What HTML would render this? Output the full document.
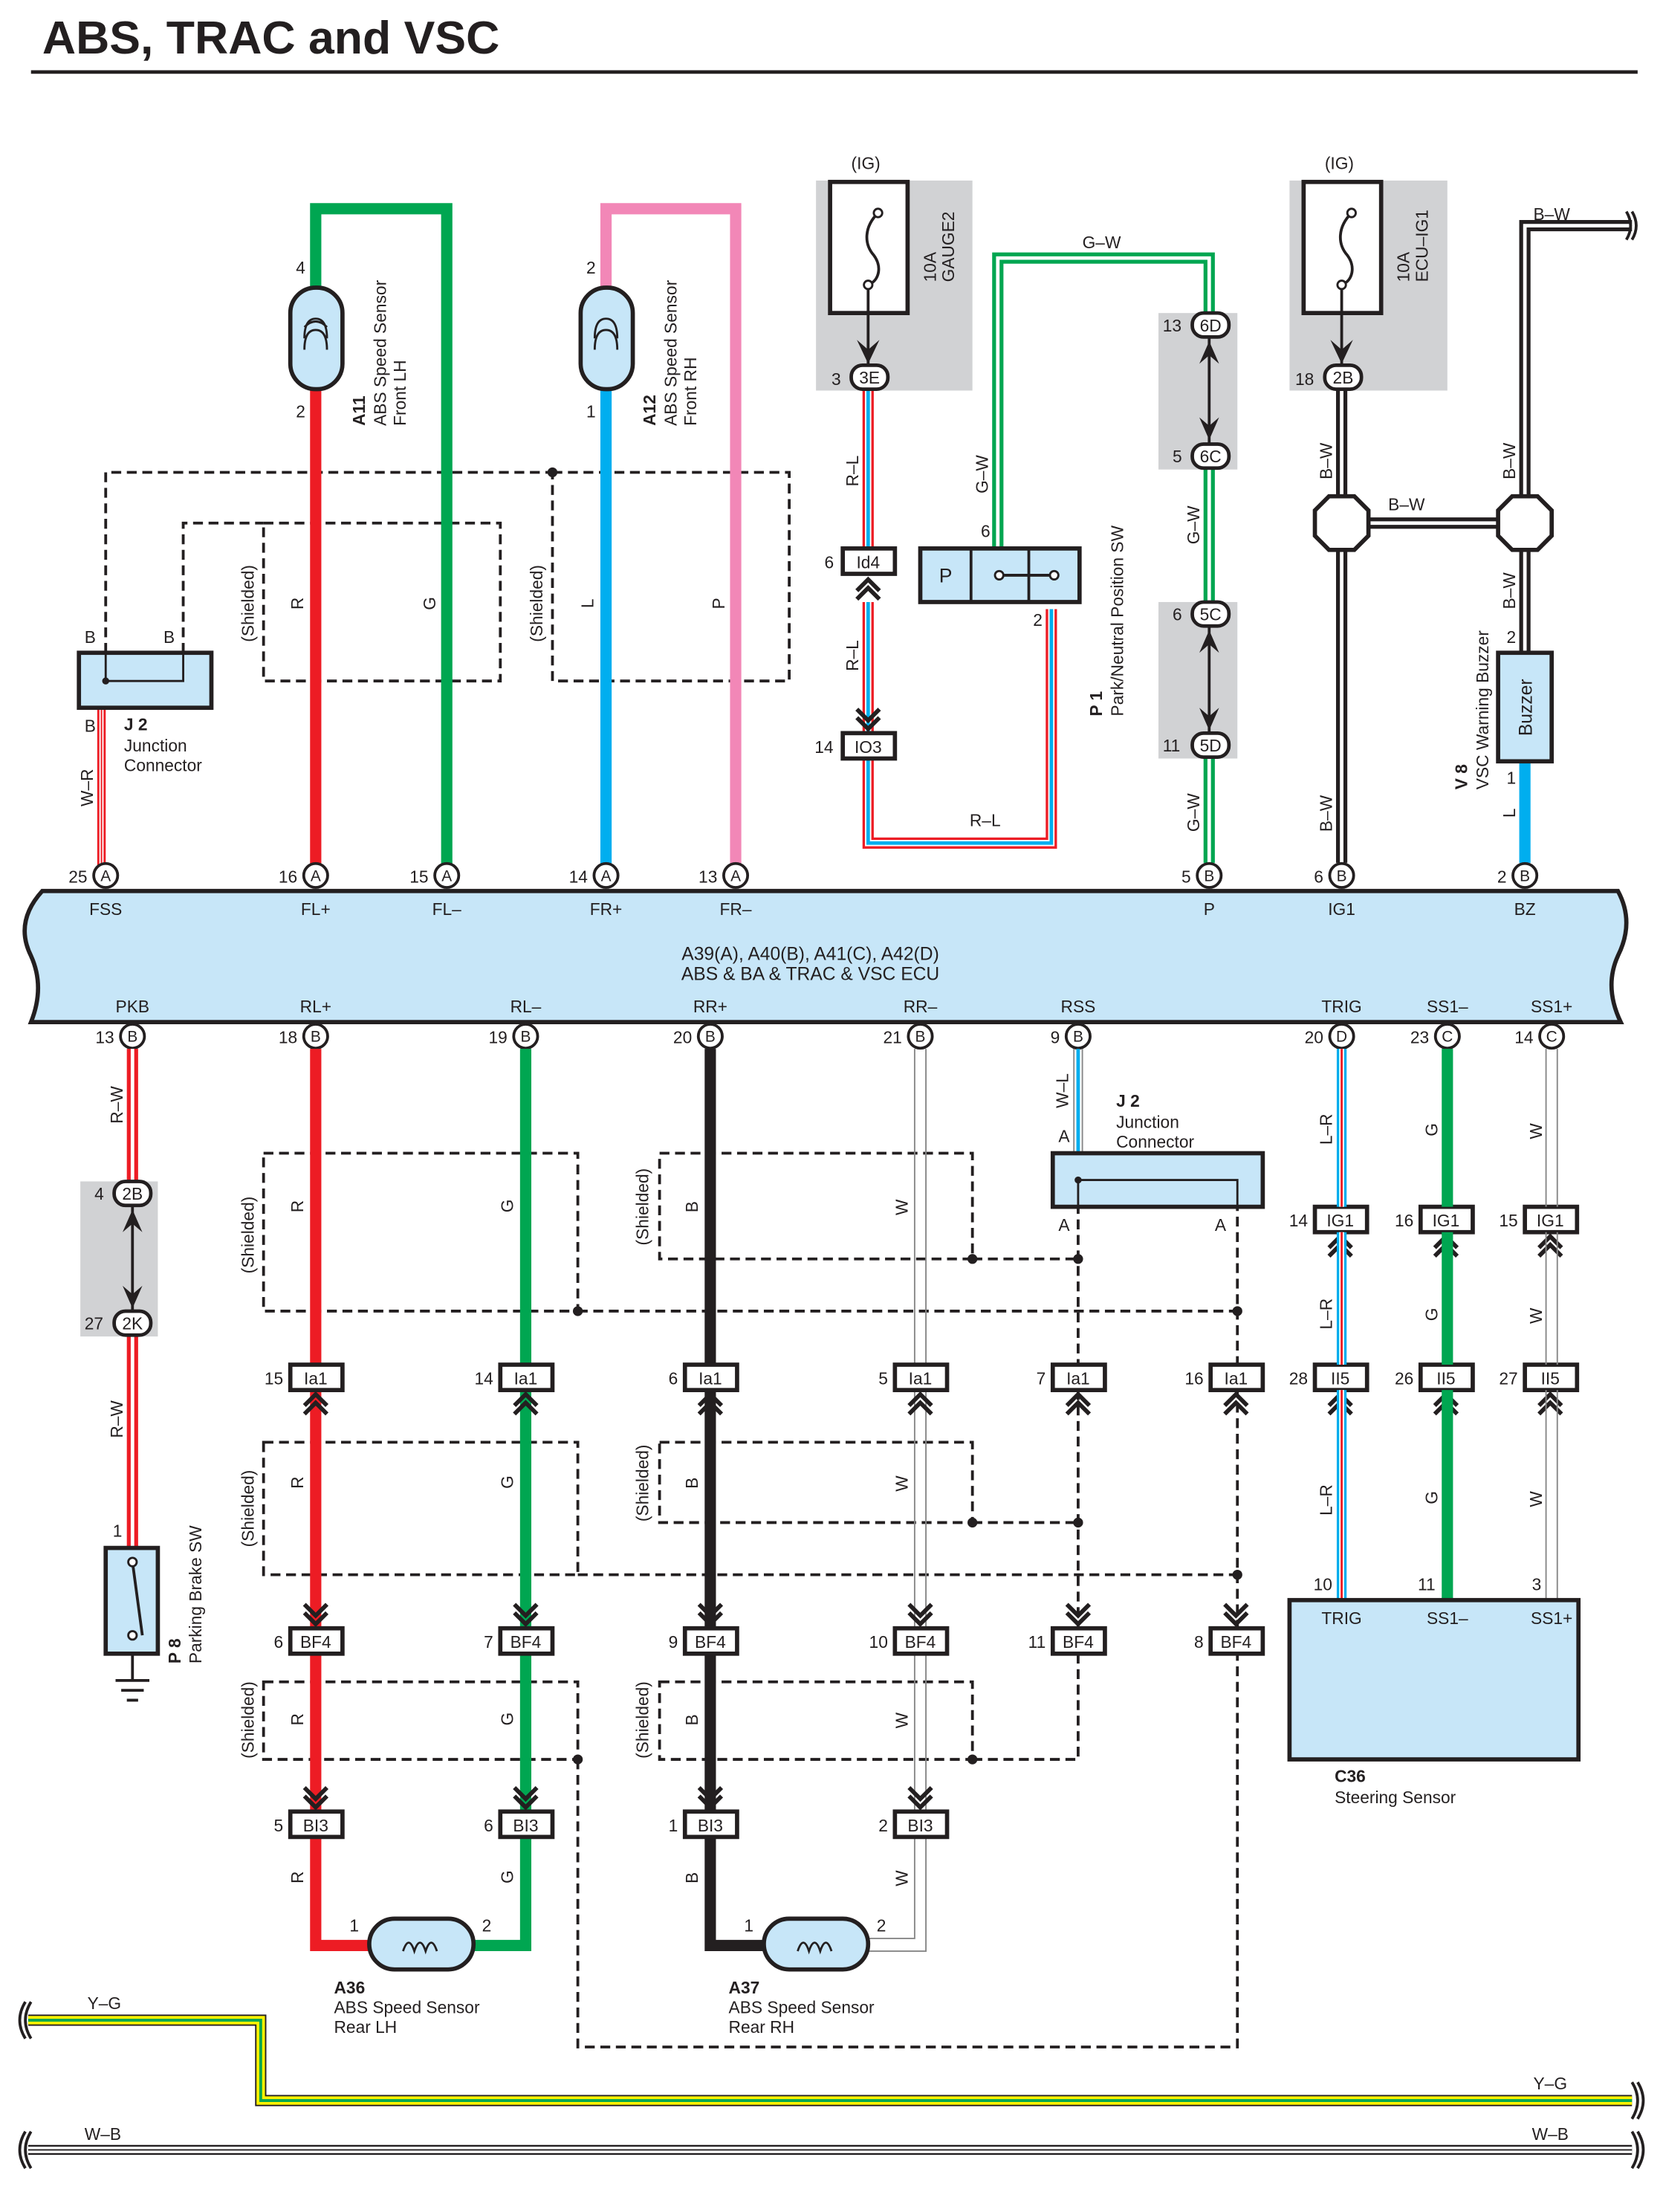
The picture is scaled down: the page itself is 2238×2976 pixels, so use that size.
<!DOCTYPE html>
<html><head><meta charset="utf-8"><style>html,body{margin:0;padding:0;background:#fff}svg{display:block}text{font-family:"Liberation Sans",sans-serif;fill:#231f20}</style></head><body>
<svg width="2238" height="2976" viewBox="0 0 1180 1569" xmlns="http://www.w3.org/2000/svg">
<defs>
<g id="cu"><polyline points="-8,9 0,1 8,9" fill="none" stroke="#231f20" stroke-width="3"/><polyline points="-8,15 0,7 8,15" fill="none" stroke="#231f20" stroke-width="3"/></g>
<g id="cd"><polyline points="-8,-9 0,-1 8,-9" fill="none" stroke="#231f20" stroke-width="3"/><polyline points="-8,-15 0,-7 8,-15" fill="none" stroke="#231f20" stroke-width="3"/></g>
</defs>
<style>
.dash{fill:none;stroke:#231f20;stroke-width:2;stroke-dasharray:7,4}
.t{font-size:13px}
.s{font-size:12px}
</style>
<!-- title -->
<text x="30" y="38" style="font-size:33px;font-weight:bold">ABS, TRAC and VSC</text>
<line x1="22" y1="51" x2="1162" y2="51" stroke="#231f20" stroke-width="2.5"/>

<!-- gray boxes -->
<rect x="579" y="128" width="111" height="149" fill="#d1d2d4"/>
<rect x="915" y="128" width="112" height="149" fill="#d1d2d4"/>
<rect x="822" y="222" width="56" height="111" fill="#d1d2d4"/>
<rect x="822" y="427" width="56" height="111" fill="#d1d2d4"/>
<rect x="57" y="838" width="55" height="110" fill="#d1d2d4"/>

<!-- dashed shields top -->
<path class="dash" d="M75,463 V335 H392"/>
<rect class="dash" x="392" y="335" width="168" height="148"/>
<circle cx="392" cy="335" r="3.5" fill="#231f20"/>
<path class="dash" d="M130,463 V371 H187"/>
<rect class="dash" x="187" y="371" width="168" height="112"/>
<text class="s" transform="translate(180,428) rotate(-90)" text-anchor="middle">(Shielded)</text>
<text class="s" transform="translate(385,428) rotate(-90)" text-anchor="middle">(Shielded)</text>
<text class="s" transform="translate(215,428) rotate(-90)" text-anchor="middle">R</text>
<text class="s" transform="translate(309,428) rotate(-90)" text-anchor="middle">G</text>
<text class="s" transform="translate(421,428) rotate(-90)" text-anchor="middle">L</text>
<text class="s" transform="translate(514,428) rotate(-90)" text-anchor="middle">P</text>

<!-- A11 -->
<path d="M224,621 V270" stroke="#ed1c24" stroke-width="8" fill="none"/>
<path d="M224,210 V148 H317 V621" stroke="#00a651" stroke-width="8" fill="none"/>
<rect x="206" y="204" width="37" height="72" rx="18" fill="#c7e6f8" stroke="#231f20" stroke-width="3"/>
<path d="M216,248 q0,-14 8,-14 q8,0 8,14 M216,240 q0,-14 8,-14 q8,0 8,14 M216,232 q8,-8 16,0" fill="none" stroke="#231f20" stroke-width="1.5"/>
<text class="s" x="210" y="194">4</text><text class="s" x="210" y="296">2</text>
<text transform="translate(259,302) rotate(-90)" class="s"><tspan style="font-weight:bold">A11</tspan></text>
<text transform="translate(274,302) rotate(-90)" class="s">ABS Speed Sensor</text>
<text transform="translate(288,302) rotate(-90)" class="s">Front LH</text>
<!-- A12 -->
<path d="M430,621 V270" stroke="#00aeef" stroke-width="8" fill="none"/>
<path d="M430,210 V148 H522 V621" stroke="#f287b7" stroke-width="8" fill="none"/>
<rect x="412" y="204" width="37" height="72" rx="18" fill="#c7e6f8" stroke="#231f20" stroke-width="3"/>
<path d="M422,248 q0,-14 8,-14 q8,0 8,14 M422,240 q0,-14 8,-14 q8,0 8,14" fill="none" stroke="#231f20" stroke-width="1.5"/>
<text class="s" x="416" y="194">2</text><text class="s" x="416" y="296">1</text>
<text transform="translate(465,302) rotate(-90)" class="s" style="font-weight:bold">A12</text>
<text transform="translate(480,302) rotate(-90)" class="s">ABS Speed Sensor</text>
<text transform="translate(494,302) rotate(-90)" class="s">Front RH</text>

<!-- J2 top -->
<path d="M72,502 V621" stroke="#ed1c24" stroke-width="6" fill="none"/>
<path d="M72,502 V621" stroke="#fff" stroke-width="3" fill="none"/>
<path d="M72,502 V621" stroke="#ed1c24" stroke-width="1" fill="none"/>
<rect x="56" y="463" width="94" height="39" fill="#c7e6f8" stroke="#231f20" stroke-width="3"/>
<path d="M75,463 V483 H130 V463" fill="none" stroke="#231f20" stroke-width="1.5"/>
<circle cx="75" cy="483" r="2.5" fill="#231f20"/>
<text class="s" x="60" y="456">B</text><text class="s" x="116" y="456">B</text><text class="s" x="60" y="519">B</text>
<text class="s" transform="translate(66,572) rotate(-90)">W–R</text>
<text x="88" y="518" class="s" style="font-weight:bold">J 2</text>
<text x="88" y="533" class="s">Junction</text>
<text x="88" y="547" class="s">Connector</text>

<!-- GAUGE2 fuse -->
<text class="s" x="604" y="120">(IG)</text>
<rect x="589" y="129" width="55" height="93" fill="#fff" stroke="#231f20" stroke-width="3"/>
<path d="M623,151 c-10,10 -10,22 -3,30 c6,8 4,18 -4,21" fill="none" stroke="#231f20" stroke-width="2"/>
<circle cx="623" cy="151" r="3" fill="#fff" stroke="#231f20" stroke-width="1.5"/>
<circle cx="616" cy="202" r="3" fill="#fff" stroke="#231f20" stroke-width="1.5"/>
<line x1="616" y1="205" x2="616" y2="258" stroke="#231f20" stroke-width="2"/>
<path d="M608,241 L616,258 L624,241 L616,248 Z" fill="#231f20"/>
<text transform="translate(664,200) rotate(-90)" class="s">10A</text>
<text transform="translate(677,200) rotate(-90)" class="s">GAUGE2</text>
<!-- R-L wire -->
<g fill="none">
<path d="M616,277 V389 M616,427 V520 M616,538 V598 H746 V432" stroke="#ed1c24" stroke-width="8"/>
<path d="M616,277 V389 M616,427 V520 M616,538 V598 H746 V432" stroke="#fff" stroke-width="4.5"/>
<path d="M616,277 V389 M616,427 V520 M616,538 V598 H746 V432" stroke="#00aeef" stroke-width="2.5"/>
</g>
<text class="s" transform="translate(609,345) rotate(-90)">R–L</text>
<text class="s" transform="translate(609,476) rotate(-90)">R–L</text>
<text class="s" x="688" y="586">R–L</text>
<rect x="604" y="259" width="26" height="17" rx="8" fill="#fff" stroke="#231f20" stroke-width="2.5"/>
<text class="s" x="617" y="272" text-anchor="middle">3E</text><text class="s" x="590" y="273">3</text>
<rect x="598" y="389" width="37" height="18" fill="#fff" stroke="#231f20" stroke-width="3"/>
<text class="s" x="616" y="403" text-anchor="middle">Id4</text><text class="s" x="585" y="403">6</text>
<use href="#cu" x="616" y="410"/>
<use href="#cd" x="616" y="518"/>
<rect x="598" y="520" width="37" height="18" fill="#fff" stroke="#231f20" stroke-width="3"/>
<text class="s" x="616" y="534" text-anchor="middle">IO3</text><text class="s" x="578" y="534">14</text>
<!-- G-W -->
<g fill="none">
<path d="M708,389 V183 H858 V222 M858,333 V427 M858,538 V612" stroke="#00a651" stroke-width="8"/>
<path d="M708,389 V183 H858 V222 M858,333 V427 M858,538 V612" stroke="#fff" stroke-width="2.5"/>
</g>
<text class="s" x="768" y="176">G–W</text>
<text class="s" transform="translate(701,350) rotate(-90)">G–W</text>
<text class="s" transform="translate(851,386) rotate(-90)">G–W</text>
<text class="s" transform="translate(851,590) rotate(-90)">G–W</text>
<text class="s" x="696" y="381">6</text>
<!-- P switch -->
<rect x="653" y="389" width="113" height="38" fill="#c7e6f8" stroke="#231f20" stroke-width="3"/>
<line x1="689" y1="389" x2="689" y2="427" stroke="#231f20" stroke-width="2"/>
<line x1="730" y1="389" x2="730" y2="427" stroke="#231f20" stroke-width="2"/>
<text x="671" y="413" style="font-size:14px" text-anchor="middle">P</text>
<line x1="709" y1="408" x2="748" y2="408" stroke="#231f20" stroke-width="2"/>
<circle cx="709" cy="408" r="3" fill="#fff" stroke="#231f20" stroke-width="1.5"/>
<circle cx="748" cy="408" r="3" fill="#fff" stroke="#231f20" stroke-width="1.5"/>
<text class="s" x="733" y="444">2</text>
<text transform="translate(782,508) rotate(-90)" class="s" style="font-weight:bold">P 1</text>
<text transform="translate(797,508) rotate(-90)" class="s">Park/Neutral Position SW</text>
<!-- 6D/6C 5C/5D -->
<line x1="858" y1="240" x2="858" y2="314" stroke="#231f20" stroke-width="2"/>
<path d="M851,258 L858,242 L865,258 L858,252Z M851,296 L858,312 L865,296 L858,302Z" fill="#231f20"/>
<line x1="858" y1="445" x2="858" y2="520" stroke="#231f20" stroke-width="2"/>
<path d="M851,463 L858,447 L865,463 L858,457Z M851,502 L858,518 L865,502 L858,508Z" fill="#231f20"/>
<g fill="#fff" stroke="#231f20" stroke-width="2.5">
<rect x="846" y="222" width="26" height="17" rx="8"/><rect x="846" y="315" width="26" height="17" rx="8"/>
<rect x="846" y="427" width="26" height="17" rx="8"/><rect x="846" y="520" width="26" height="17" rx="8"/>
</g>
<text class="s" x="859" y="235" text-anchor="middle">6D</text><text class="s" x="825" y="235">13</text>
<text class="s" x="859" y="328" text-anchor="middle">6C</text><text class="s" x="832" y="328">5</text>
<text class="s" x="859" y="440" text-anchor="middle">5C</text><text class="s" x="832" y="440">6</text>
<text class="s" x="859" y="533" text-anchor="middle">5D</text><text class="s" x="825" y="533">11</text>

<!-- ECU-IG1 fuse -->
<text class="s" x="940" y="120">(IG)</text>
<rect x="925" y="129" width="55" height="93" fill="#fff" stroke="#231f20" stroke-width="3"/>
<path d="M959,151 c-10,10 -10,22 -3,30 c6,8 4,18 -4,21" fill="none" stroke="#231f20" stroke-width="2"/>
<circle cx="959" cy="151" r="3" fill="#fff" stroke="#231f20" stroke-width="1.5"/>
<circle cx="952" cy="202" r="3" fill="#fff" stroke="#231f20" stroke-width="1.5"/>
<line x1="952" y1="205" x2="952" y2="258" stroke="#231f20" stroke-width="2"/>
<path d="M944,241 L952,258 L960,241 L952,248 Z" fill="#231f20"/>
<text transform="translate(1000,200) rotate(-90)" class="s">10A</text>
<text transform="translate(1013,200) rotate(-90)" class="s">ECU–IG1</text>
<g fill="none">
<path d="M952,277 V612 M952,371 H1082 M1082,463 V160 H1158" stroke="#231f20" stroke-width="8"/>
<path d="M952,277 V612 M952,371 H1082 M1082,463 V160 H1158" stroke="#fff" stroke-width="2.5"/>
</g>
<path d="M1158,150 q6,10 0,20" fill="none" stroke="#231f20" stroke-width="2"/>
<path d="M1154,150 q6,10 0,20" fill="none" stroke="#231f20" stroke-width="2"/>
<polygon points="943,352 961,352 971,362 971,380 961,390 943,390 933,380 933,362" fill="#fff" stroke="#231f20" stroke-width="3"/>
<polygon points="1073,352 1091,352 1101,362 1101,380 1091,390 1073,390 1063,380 1063,362" fill="#fff" stroke="#231f20" stroke-width="3"/>
<rect x="940" y="259" width="26" height="17" rx="8" fill="#fff" stroke="#231f20" stroke-width="2.5"/>
<text class="s" x="953" y="272" text-anchor="middle">2B</text><text class="s" x="919" y="273">18</text>
<text class="s" x="1088" y="156">B–W</text>
<text class="s" x="985" y="362">B–W</text>
<text class="s" transform="translate(945,340) rotate(-90)">B–W</text>
<text class="s" transform="translate(945,590) rotate(-90)">B–W</text>
<text class="s" transform="translate(1075,340) rotate(-90)">B–W</text>
<text class="s" transform="translate(1075,432) rotate(-90)">B–W</text>
<text class="s" x="1069" y="456">2</text>
<path d="M1082,540 V612" stroke="#00aeef" stroke-width="8"/>
<rect x="1063" y="463" width="38" height="77" fill="#c7e6f8" stroke="#231f20" stroke-width="3"/>
<text transform="translate(1087,522) rotate(-90)" style="font-size:13px">Buzzer</text>
<text class="s" x="1069" y="556">1</text>
<text class="s" transform="translate(1075,580) rotate(-90)">L</text>
<text transform="translate(1041,560) rotate(-90)" class="s" style="font-weight:bold">V 8</text>
<text transform="translate(1056,560) rotate(-90)" class="s">VSC Warning Buzzer</text>

<!-- ECU bar -->
<path d="M30,632 H1148 q12,22 0,46 q-10,22 2,47 H22 q10,-25 0,-47 q-12,-24 8,-46Z" fill="#c7e6f8" stroke="#231f20" stroke-width="3"/>
<text x="575" y="681" text-anchor="middle" style="font-size:13px">A39(A), A40(B), A41(C), A42(D)</text>
<text x="575" y="695" text-anchor="middle" style="font-size:13px">ABS &amp; BA &amp; TRAC &amp; VSC ECU</text>
<g class="s" text-anchor="middle">
<text x="75" y="649">FSS</text><text x="224" y="649">FL+</text><text x="317" y="649">FL–</text><text x="430" y="649">FR+</text><text x="522" y="649">FR–</text><text x="858" y="649">P</text><text x="952" y="649">IG1</text><text x="1082" y="649">BZ</text>
<text x="94" y="718">PKB</text><text x="224" y="718">RL+</text><text x="373" y="718">RL–</text><text x="504" y="718">RR+</text><text x="653" y="718">RR–</text><text x="765" y="718">RSS</text><text x="952" y="718">TRIG</text><text x="1027" y="718">SS1–</text><text x="1101" y="718">SS1+</text>
</g>
<!-- top pins -->
<g fill="#fff" stroke="#231f20" stroke-width="2">
<circle cx="75" cy="621" r="8.5"/><circle cx="224" cy="621" r="8.5"/><circle cx="317" cy="621" r="8.5"/><circle cx="430" cy="621" r="8.5"/><circle cx="522" cy="621" r="8.5"/><circle cx="858" cy="621" r="8.5"/><circle cx="952" cy="621" r="8.5"/><circle cx="1082" cy="621" r="8.5"/>
<circle cx="94" cy="735" r="8.5"/><circle cx="224" cy="735" r="8.5"/><circle cx="373" cy="735" r="8.5"/><circle cx="504" cy="735" r="8.5"/><circle cx="653" cy="735" r="8.5"/><circle cx="765" cy="735" r="8.5"/><circle cx="952" cy="735" r="8.5"/><circle cx="1027" cy="735" r="8.5"/><circle cx="1101" cy="735" r="8.5"/>
</g>
<g class="s" text-anchor="middle" style="font-size:11px">
<text x="75" y="625">A</text><text x="224" y="625">A</text><text x="317" y="625">A</text><text x="430" y="625">A</text><text x="522" y="625">A</text><text x="858" y="625">B</text><text x="952" y="625">B</text><text x="1082" y="625">B</text>
<text x="94" y="739">B</text><text x="224" y="739">B</text><text x="373" y="739">B</text><text x="504" y="739">B</text><text x="653" y="739">B</text><text x="765" y="739">B</text><text x="952" y="739">D</text><text x="1027" y="739">C</text><text x="1101" y="739">C</text>
</g>
<g class="s" text-anchor="end">
<text x="62" y="626">25</text><text x="211" y="626">16</text><text x="304" y="626">15</text><text x="417" y="626">14</text><text x="509" y="626">13</text><text x="845" y="626">5</text><text x="939" y="626">6</text><text x="1069" y="626">2</text>
<text x="81" y="740">13</text><text x="211" y="740">18</text><text x="360" y="740">19</text><text x="491" y="740">20</text><text x="640" y="740">21</text><text x="752" y="740">9</text><text x="939" y="740">20</text><text x="1014" y="740">23</text><text x="1088" y="740">14</text>
</g>

<!-- PKB -->
<g fill="none">
<path d="M94,744 V838 M94,948 V1098" stroke="#ed1c24" stroke-width="8"/>
<path d="M94,744 V838 M94,948 V1098" stroke="#fff" stroke-width="2.5"/>
</g>
<line x1="94" y1="856" x2="94" y2="930" stroke="#231f20" stroke-width="2"/>
<path d="M87,874 L94,858 L101,874 L94,868Z M87,912 L94,928 L101,912 L94,918Z" fill="#231f20"/>
<rect x="81" y="838" width="26" height="17" rx="8" fill="#fff" stroke="#231f20" stroke-width="2.5"/>
<rect x="81" y="930" width="26" height="17" rx="8" fill="#fff" stroke="#231f20" stroke-width="2.5"/>
<text class="s" x="94" y="851" text-anchor="middle">2B</text><text class="s" x="67" y="851">4</text>
<text class="s" x="94" y="943" text-anchor="middle">2K</text><text class="s" x="60" y="943">27</text>
<text class="s" transform="translate(87,797) rotate(-90)">R–W</text>
<text class="s" transform="translate(87,1020) rotate(-90)">R–W</text>
<text class="s" x="80" y="1090">1</text>
<rect x="75" y="1098" width="37" height="75" fill="#c7e6f8" stroke="#231f20" stroke-width="3"/>
<line x1="94" y1="1108" x2="101" y2="1160" stroke="#231f20" stroke-width="2"/>
<circle cx="94" cy="1108" r="3" fill="#fff" stroke="#231f20" stroke-width="1.5"/>
<circle cx="94" cy="1160" r="3" fill="#fff" stroke="#231f20" stroke-width="1.5"/>
<path d="M94,1173 V1192 M82,1192 H106 M86,1199 H102 M90,1206 H98" stroke="#231f20" stroke-width="2" fill="none"/>
<text transform="translate(128,1180) rotate(-90)" class="s" style="font-weight:bold">P 8</text>
<text transform="translate(143,1180) rotate(-90)" class="s">Parking Brake SW</text>

<!-- bottom shields -->
<rect class="dash" x="187" y="818" width="223" height="112"/>
<rect class="dash" x="468" y="818" width="222" height="75"/>
<path class="dash" d="M690,893 H765 M410,930 H878"/>
<rect class="dash" x="187" y="1023" width="223" height="94"/>
<rect class="dash" x="468" y="1023" width="222" height="57"/>
<path class="dash" d="M690,1080 H765 M410,1117 H878"/>
<rect class="dash" x="187" y="1193" width="223" height="55"/>
<rect class="dash" x="468" y="1193" width="222" height="55"/>
<path class="dash" d="M690,1248 H765 V856 M410,1248 V1452 H878 V856"/>
<g fill="#231f20"><circle cx="690" cy="893" r="3.5"/><circle cx="765" cy="893" r="3.5"/><circle cx="410" cy="930" r="3.5"/><circle cx="878" cy="930" r="3.5"/><circle cx="690" cy="1080" r="3.5"/><circle cx="765" cy="1080" r="3.5"/><circle cx="878" cy="1117" r="3.5"/><circle cx="690" cy="1248" r="3.5"/><circle cx="410" cy="1248" r="3.5"/></g>
<g class="s">
<text transform="translate(180,876) rotate(-90)" text-anchor="middle">(Shielded)</text>
<text transform="translate(460,856) rotate(-90)" text-anchor="middle">(Shielded)</text>
<text transform="translate(180,1070) rotate(-90)" text-anchor="middle">(Shielded)</text>
<text transform="translate(460,1052) rotate(-90)" text-anchor="middle">(Shielded)</text>
<text transform="translate(180,1220) rotate(-90)" text-anchor="middle">(Shielded)</text>
<text transform="translate(460,1220) rotate(-90)" text-anchor="middle">(Shielded)</text>
</g>

<!-- RL wires -->
<path d="M224,744 V1380 H262" stroke="#ed1c24" stroke-width="8" fill="none"/>
<path d="M373,744 V1380 H335" stroke="#00a651" stroke-width="8" fill="none"/>
<path d="M504,744 V1380 H542" stroke="#231f20" stroke-width="8" fill="none"/>
<path d="M649,744 V1375 H615 M657,744 V1384 H615" stroke="#888" stroke-width="1" fill="none"/>
<!-- RSS W-L -->
<path d="M762,744 V818 M768,744 V818" stroke="#888" stroke-width="1"/>
<path d="M765,744 V818" stroke="#00aeef" stroke-width="2.5"/>
<text class="s" transform="translate(758,786) rotate(-90)">W–L</text>
<text class="s" x="751" y="810">A</text>
<rect x="747" y="818" width="149" height="38" fill="#c7e6f8" stroke="#231f20" stroke-width="3"/>
<path d="M765,856 V837 H878 V856" fill="none" stroke="#231f20" stroke-width="1.5"/>
<circle cx="765" cy="837" r="2.5" fill="#231f20"/>
<text class="s" x="751" y="873">A</text><text class="s" x="862" y="873">A</text>
<text x="792" y="785" class="s" style="font-weight:bold">J 2</text>
<text x="792" y="800" class="s">Junction</text>
<text x="792" y="814" class="s">Connector</text>

<g class="s">
<text transform="translate(215,860) rotate(-90)">R</text><text transform="translate(364,860) rotate(-90)">G</text>
<text transform="translate(495,860) rotate(-90)">B</text><text transform="translate(644,862) rotate(-90)">W</text>
<text transform="translate(215,1056) rotate(-90)">R</text><text transform="translate(364,1056) rotate(-90)">G</text>
<text transform="translate(495,1056) rotate(-90)">B</text><text transform="translate(644,1058) rotate(-90)">W</text>
<text transform="translate(215,1224) rotate(-90)">R</text><text transform="translate(364,1224) rotate(-90)">G</text>
<text transform="translate(495,1224) rotate(-90)">B</text><text transform="translate(644,1226) rotate(-90)">W</text>
<text transform="translate(215,1336) rotate(-90)">R</text><text transform="translate(364,1336) rotate(-90)">G</text>
<text transform="translate(495,1336) rotate(-90)">B</text><text transform="translate(644,1338) rotate(-90)">W</text>
</g>

<!-- connectors rows -->
<g fill="#fff" stroke="#231f20" stroke-width="3">
<rect x="206" y="968" width="37" height="18"/><rect x="355" y="968" width="37" height="18"/><rect x="486" y="968" width="37" height="18"/><rect x="635" y="968" width="37" height="18"/><rect x="747" y="968" width="37" height="18"/><rect x="859" y="968" width="37" height="18"/>
<rect x="206" y="1155" width="37" height="18"/><rect x="355" y="1155" width="37" height="18"/><rect x="486" y="1155" width="37" height="18"/><rect x="635" y="1155" width="37" height="18"/><rect x="747" y="1155" width="37" height="18"/><rect x="859" y="1155" width="37" height="18"/>
<rect x="206" y="1285" width="37" height="18"/><rect x="355" y="1285" width="37" height="18"/><rect x="486" y="1285" width="37" height="18"/><rect x="635" y="1285" width="37" height="18"/>
<rect x="933" y="856" width="37" height="18"/><rect x="1008" y="856" width="37" height="18"/><rect x="1082" y="856" width="37" height="18"/>
<rect x="933" y="968" width="37" height="18"/><rect x="1008" y="968" width="37" height="18"/><rect x="1082" y="968" width="37" height="18"/>
</g>
<g class="s" text-anchor="middle">
<text x="224" y="982">Ia1</text><text x="373" y="982">Ia1</text><text x="504" y="982">Ia1</text><text x="653" y="982">Ia1</text><text x="765" y="982">Ia1</text><text x="877" y="982">Ia1</text>
<text x="224" y="1169">BF4</text><text x="373" y="1169">BF4</text><text x="504" y="1169">BF4</text><text x="653" y="1169">BF4</text><text x="765" y="1169">BF4</text><text x="877" y="1169">BF4</text>
<text x="224" y="1299">BI3</text><text x="373" y="1299">BI3</text><text x="504" y="1299">BI3</text><text x="653" y="1299">BI3</text>
<text x="951" y="870">IG1</text><text x="1026" y="870">IG1</text><text x="1100" y="870">IG1</text>
<text x="951" y="982">II5</text><text x="1026" y="982">II5</text><text x="1100" y="982">II5</text>
</g>
<g class="s" text-anchor="end">
<text x="201" y="982">15</text><text x="350" y="982">14</text><text x="481" y="982">6</text><text x="630" y="982">5</text><text x="742" y="982">7</text><text x="854" y="982">16</text>
<text x="201" y="1169">6</text><text x="350" y="1169">7</text><text x="481" y="1169">9</text><text x="630" y="1169">10</text><text x="742" y="1169">11</text><text x="854" y="1169">8</text>
<text x="201" y="1299">5</text><text x="350" y="1299">6</text><text x="481" y="1299">1</text><text x="630" y="1299">2</text>
<text x="928" y="870">14</text><text x="1003" y="870">16</text><text x="1077" y="870">15</text>
<text x="928" y="982">28</text><text x="1003" y="982">26</text><text x="1077" y="982">27</text>
</g>
<g>
<use href="#cu" x="224" y="988"/><use href="#cu" x="373" y="988"/><use href="#cu" x="504" y="988"/><use href="#cu" x="653" y="988"/><use href="#cu" x="765" y="988"/><use href="#cu" x="877" y="988"/>
<use href="#cd" x="224" y="1153"/><use href="#cd" x="373" y="1153"/><use href="#cd" x="504" y="1153"/><use href="#cd" x="653" y="1153"/><use href="#cd" x="765" y="1153"/><use href="#cd" x="877" y="1153"/>
<use href="#cd" x="224" y="1283"/><use href="#cd" x="373" y="1283"/><use href="#cd" x="504" y="1283"/><use href="#cd" x="653" y="1283"/>
<use href="#cu" x="951" y="876"/><use href="#cu" x="1026" y="876"/><use href="#cu" x="1100" y="876"/>
<use href="#cu" x="951" y="988"/><use href="#cu" x="1026" y="988"/><use href="#cu" x="1100" y="988"/>
</g>

<!-- sensors rear -->
<rect x="262" y="1361" width="74" height="36" rx="18" fill="#c7e6f8" stroke="#231f20" stroke-width="3"/>
<path d="M286,1384 q4,-12 8,0 q4,-12 8,0 q4,-12 8,0" fill="none" stroke="#231f20" stroke-width="1.5"/>
<text class="s" x="248" y="1370">1</text><text class="s" x="342" y="1370">2</text>
<text x="237" y="1414" class="s" style="font-weight:bold">A36</text>
<text x="237" y="1428" class="s">ABS Speed Sensor</text>
<text x="237" y="1442" class="s">Rear LH</text>
<rect x="542" y="1361" width="74" height="36" rx="18" fill="#c7e6f8" stroke="#231f20" stroke-width="3"/>
<path d="M566,1384 q4,-12 8,0 q4,-12 8,0 q4,-12 8,0" fill="none" stroke="#231f20" stroke-width="1.5"/>
<text class="s" x="528" y="1370">1</text><text class="s" x="622" y="1370">2</text>
<text x="517" y="1414" class="s" style="font-weight:bold">A37</text>
<text x="517" y="1428" class="s">ABS Speed Sensor</text>
<text x="517" y="1442" class="s">Rear RH</text>

<!-- steering wires -->
<g fill="none">
<path d="M952,744 V856 M952,874 V968 M952,986 V1135" stroke="#00aeef" stroke-width="7"/>
<path d="M952,744 V856 M952,874 V968 M952,986 V1135" stroke="#fff" stroke-width="3.5"/>
<path d="M952,744 V856 M952,874 V968 M952,986 V1135" stroke="#ed1c24" stroke-width="1.5"/>
<path d="M1027,744 V856 M1027,874 V968 M1027,986 V1135" stroke="#00a651" stroke-width="8"/>
<path d="M1097,744 V856 M1105,744 V856 M1097,874 V968 M1105,874 V968 M1097,986 V1135 M1105,986 V1135" stroke="#888" stroke-width="1"/>
</g>
<g class="s">
<text transform="translate(945,812) rotate(-90)">L–R</text><text transform="translate(1020,806) rotate(-90)">G</text><text transform="translate(1094,808) rotate(-90)">W</text>
<text transform="translate(945,943) rotate(-90)">L–R</text><text transform="translate(1020,937) rotate(-90)">G</text><text transform="translate(1094,939) rotate(-90)">W</text>
<text transform="translate(945,1075) rotate(-90)">L–R</text><text transform="translate(1020,1067) rotate(-90)">G</text><text transform="translate(1094,1069) rotate(-90)">W</text>
<text x="932" y="1128">10</text><text x="1006" y="1128">11</text><text x="1087" y="1128">3</text>
</g>
<rect x="915" y="1135" width="205" height="113" fill="#c7e6f8" stroke="#231f20" stroke-width="3"/>
<g class="s" text-anchor="middle"><text x="952" y="1152">TRIG</text><text x="1027" y="1152">SS1–</text><text x="1101" y="1152">SS1+</text></g>
<text x="947" y="1264" class="s" style="font-weight:bold">C36</text>
<text x="947" y="1279" class="s">Steering Sensor</text>

<!-- bottom wires -->
<g fill="none">
<path d="M20,1433 H185 V1490 H1158" stroke="#231f20" stroke-width="8"/>
<path d="M20,1433 H185 V1490 H1158" stroke="#fff200" stroke-width="6"/>
<path d="M20,1433 H185 V1490 H1158" stroke="#00a651" stroke-width="2"/>
<path d="M20,1525 H1158" stroke="#231f20" stroke-width="7"/>
<path d="M20,1525 H1158" stroke="#fff" stroke-width="4.5"/>
<path d="M20,1525 H1158" stroke="#231f20" stroke-width="1"/>
<path d="M22,1420 q-8,13 0,26 M18,1420 q-8,13 0,26 M1158,1477 q8,13 0,26 M1162,1477 q8,13 0,26 M22,1512 q-8,13 0,26 M18,1512 q-8,13 0,26 M1158,1512 q8,13 0,26 M1162,1512 q8,13 0,26" stroke="#231f20" stroke-width="2"/>
</g>
<text class="s" x="62" y="1425">Y–G</text>
<text class="s" x="1088" y="1482">Y–G</text>
<text class="s" x="60" y="1518">W–B</text>
<text class="s" x="1087" y="1518">W–B</text>
</svg>
</body></html>
